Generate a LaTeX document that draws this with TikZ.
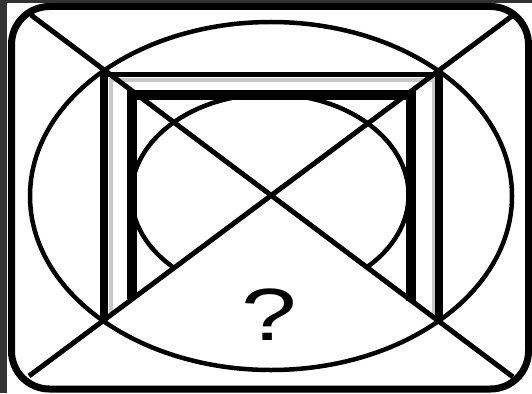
\documentclass[tikz,border=0pt]{standalone}
\usepackage{fontspec}
\setmainfont{Liberation Sans}
\definecolor{stripgray}{RGB}{51,51,51}
\definecolor{lightline}{RGB}{200,200,200}
\begin{document}
\begin{tikzpicture}[x=1pt,y=-1pt,
  blk/.style={draw=black,line cap=butt},
  thinblk/.style={blk,line width=5pt},
  outerframe/.style={blk,line width=7.5pt},
  innerframe/.style={blk,line width=10pt},
  grayframe/.style={draw=lightline,line width=3.5pt}]
\useasboundingbox (0,0) rectangle (532,393);
% border strips of the screenshot
\fill[stripgray] (0,0) rectangle (532,3.5);
\fill[stripgray] (0,0) rectangle (6.5,393);
% named points
\coordinate (C) at (271,196);
\coordinate (TL) at (31,15);
\coordinate (BR) at (513,377);
\coordinate (TR) at (512,16);
\coordinate (BL) at (29,376);
% outer rounded rectangle
\draw[blk,line width=7pt,rounded corners=38pt] (11.5,6.5) rectangle (528.5,389);
% big ellipse
\draw[blk,line width=4.5pt] (C) ellipse [x radius=241, y radius=174];
% small ellipse, hidden in the bottom triangle
\begin{scope}
\clip (-100,-100) -- (600,-100) -- (600,443) -- (C) -- (-100,471) -- cycle;
\draw[blk,line width=4.5pt] (270,195) ellipse [x radius=138.6, y radius=101];
\end{scope}
% grey inner line of the frame
\draw[grayframe] (111,314.6) -- (111,80) -- (433.5,80) -- (433.5,318);
% outer frame
\draw[blk,line width=5.5pt] (100.25,74.5) -- (442.75,74.5);
\draw[outerframe] (104,71.75) -- (104,319.7);
\draw[outerframe] (439,71.75) -- (439,322);
% inner thick frame
\draw[innerframe,line join=miter] (131.5,299.4) -- (131.5,95.5) -- (410.5,95.5) -- (410.5,300.8);
% diagonals
\draw[thinblk] (TL) -- (BR);
\draw[thinblk] (TR) -- (BL);
% question mark
\node[font=\fontsize{74}{74}\selectfont,anchor=base,inner sep=0pt] (q) at (269,340) {\scalebox{1.35}[1]{?}};
\end{tikzpicture}
\end{document}
